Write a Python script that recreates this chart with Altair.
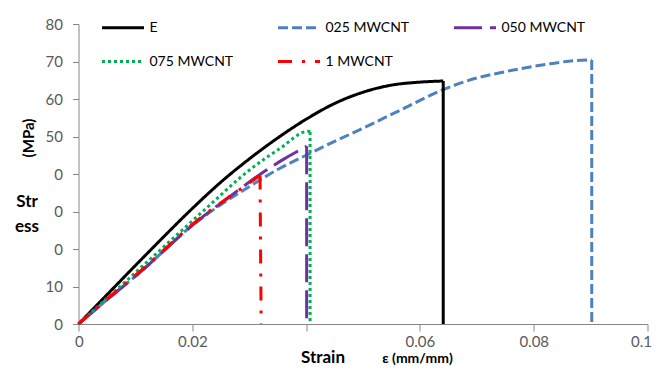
import altair as alt
import pandas as pd

series_names = ["E", "025 MWCNT", "050 MWCNT", "075 MWCNT", "1 MWCNT"]

e_x = [0, 0.005, 0.010, 0.015, 0.020, 0.025, 0.030, 0.035, 0.040, 0.045, 0.050, 0.055, 0.060, 0.0641, 0.0641]
e_y = [0, 7.8, 15.6, 23.3, 30.8, 37.8, 44.0, 49.6, 54.6, 58.8, 61.8, 63.7, 64.5, 64.8, 0]

c025_x = [0, 0.004, 0.011, 0.02, 0.025, 0.03, 0.035, 0.04, 0.045, 0.05, 0.0565, 0.0641, 0.07, 0.0741, 0.0829, 0.087, 0.0902, 0.0902]
c025_y = [0, 5.2, 14.0, 26.3, 31.8, 36.6, 41.2, 45.0, 48.7, 52.2, 57.0, 62.5, 65.6, 67.0, 69.4, 70.2, 70.4, 0]

c050_x = [0, 0.0041, 0.0111, 0.0216, 0.0266, 0.032, 0.036, 0.0401, 0.0401]
c050_y = [0, 5.3, 14.2, 28.3, 34.0, 40.0, 43.9, 47.4, 0]

c075_x = [0, 0.0041, 0.0134, 0.0222, 0.030, 0.0354, 0.0404, 0.0407, 0.0407]
c075_y = [0, 5.6, 18.4, 30.5, 41.0, 46.8, 51.4, 51.2, 0]

c1_x = [0, 0.0041, 0.0111, 0.0216, 0.0266, 0.0319, 0.0321]
c1_y = [0, 5.5, 14.4, 28.5, 34.0, 39.6, 0]

x_ticks = [0, 0.02, 0.04, 0.06, 0.08, 0.1]
y_ticks = [0, 10, 20, 30, 40, 50, 60, 70, 80]

colors = ["#000000", "#4F81BD", "#7030A0", "#00B050", "#FF0000"]
dashes = [[1, 0], [10, 4], [28, 8], [3, 3], [14, 10, 3, 10]]

rows = []
for name, xs, ys in zip(series_names,
                        [e_x, c025_x, c050_x, c075_x, c1_x],
                        [e_y, c025_y, c050_y, c075_y, c1_y]):
    n = len(xs)
    for i, (xv, yv) in enumerate(zip(xs, ys)):
        if i < n - 1:
            rows.append({"series": name, "strain": xv, "stress": yv, "order": i, "part": "curve"})
        if i >= n - 2:
            rows.append({"series": name, "strain": xv, "stress": yv, "order": i, "part": "drop"})
df = pd.DataFrame(rows)

FONT = "Lato"

x_enc = alt.X("strain:Q",
              scale=alt.Scale(domain=[0, 0.1], nice=False),
              axis=alt.Axis(values=x_ticks, grid=False, tickSize=7, labelPadding=3,
                            labelFlush=True, labelFlushOffset=4,
                            labelExpr="abs(datum.value - 0.04) < 1e-9 ? '' : format(datum.value, '~g')",
                            title="Strain", titleFontSize=17, titleFontWeight="bold",
                            titleX=244, titleY=38, titleBaseline="alphabetic", titleAlign="center",
                            titleColor="#000000"))
y_enc = alt.Y("stress:Q",
              scale=alt.Scale(domain=[0, 80], nice=False),
              axis=alt.Axis(values=y_ticks, grid=False, tickSize=6, labelPadding=10, labelFlush=False,
                            labelExpr="(datum.value >= 20 && datum.value <= 40) ? '0' : datum.label",
                            title=["Str", "ess"], titleAngle=0, titleFontSize=17,
                            titleFontWeight="bold", titleX=-52, titleY=182,
                            titleBaseline="alphabetic", titleAlign="center",
                            titleLineHeight=25, titleColor="#000000"))
color_enc = alt.Color("series:N", scale=alt.Scale(domain=series_names, range=colors),
                      legend=alt.Legend(title=None))
dash_enc = alt.StrokeDash("series:N", scale=alt.Scale(domain=series_names, range=dashes),
                          legend=alt.Legend(title=None))

base = alt.Chart(df)
curves = base.transform_filter(alt.datum.part == "curve").mark_line(
    strokeWidth=3, interpolate="monotone"
).encode(x=x_enc, y=y_enc, color=color_enc, strokeDash=dash_enc, order="order:Q")

drops = base.transform_filter(alt.datum.part == "drop").mark_line(
    strokeWidth=3
).encode(x=x_enc, y=y_enc, color=color_enc, strokeDash=dash_enc, order="order:Q")

mpa = alt.Chart(pd.DataFrame({"t": ["(MPa)"]})).mark_text(
    angle=270, fontSize=15, fontWeight="bold", font=FONT, color="#000000",
    align="center", baseline="middle"
).encode(x=alt.value(-50), y=alt.value(114), text="t:N")

eps = alt.Chart(pd.DataFrame({"t": ["ε (mm/mm)"]})).mark_text(
    fontSize=14, fontWeight="bold", font=FONT, color="#000000",
    align="center", baseline="alphabetic"
).encode(x=alt.value(339), y=alt.value(339), text="t:N")

chart = alt.layer(curves, drops, mpa, eps).properties(
    width=569, height=300,
    autosize=alt.AutoSizeParams(type="none"),
    padding={"left": 70.5, "top": 16, "right": 5.5, "bottom": 42},
).configure_view(stroke=None).configure_axis(
    domainColor="#868686", tickColor="#868686", labelColor="#595959",
    labelFont=FONT, labelFontSize=15, titleFont=FONT,
).configure_legend(
    orient="none", legendX=22, legendY=-19, columns=3, direction="horizontal",
    gridAlign="all",
    symbolType="stroke", symbolSize=1764, symbolStrokeWidth=3,
    labelFont=FONT, labelFontSize=14, labelColor="#000000", labelOffset=4,
    columnPadding=38, rowPadding=4,
)

chart.save("out.html", embed_options={"renderer": "svg", "actions": False})
